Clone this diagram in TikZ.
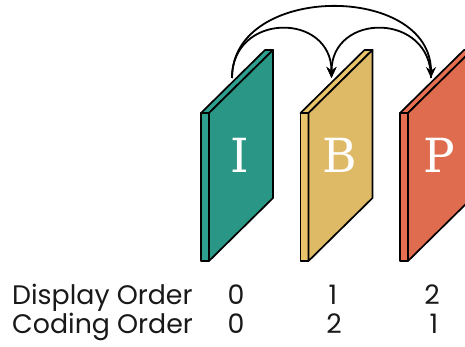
\documentclass[tikz,border=0pt]{standalone}
\usepackage{fontspec}
\setmainfont{Poppins}
\newfontfamily\letterfont{DejaVu Serif}
\usetikzlibrary{arrows.meta}
\definecolor{tealF}{HTML}{2A9686}
\definecolor{tealS}{HTML}{2DA08F}
\definecolor{yelF}{HTML}{DEBA67}
\definecolor{yelS}{HTML}{E9C46A}
\definecolor{redF}{HTML}{E06C4F}
\definecolor{redS}{HTML}{E76F51}
\tikzset{
  facedraw/.style={draw=black, line width=1.7pt, line join=round},
  framelabel/.style={text=white, font=\letterfont\fontsize{47}{47}\selectfont, inner sep=0pt},
  ordertext/.style={anchor=base west, inner sep=0pt, font=\fontsize{26.8}{26.8}\selectfont, text=black!90},
  ordernum/.style={anchor=base, inner sep=0pt, font=\fontsize{26.8}{26.8}\selectfont, text=black!90},
  deparrow/.style={draw=black, line width=1.8pt, -{Stealth[length=11pt,width=10pt]}},
}
\begin{document}
\begin{tikzpicture}[x=1pt,y=-1pt]
\useasboundingbox (0,0) rectangle (465,347);
\begin{scope}
\clip (0,0) rectangle (465,347);
\foreach \dx/\fc/\sc/\lab/\nm in {0/tealF/tealS/I/fi, 99.5/yelF/yelS/B/fb, 199/redF/redS/P/fp}{
  \begin{scope}[xshift=\dx pt]
    % side strip
    \filldraw[fill=\sc, facedraw] (201,113) -- (209,113) -- (209,261) -- (201,261) -- cycle;
    % top strip
    \filldraw[fill=\sc, facedraw] (201,113) -- (209,113) -- (273,50) -- (265,50) -- cycle;
    % front face
    \filldraw[fill=\fc, facedraw] (209,113) -- (273,50) -- (273,198) -- (209,261) -- cycle;
    \node[framelabel] (\nm) at (240,155) {\lab};
    \coordinate (\nm top) at (232,78);
  \end{scope}
}
\end{scope}
\draw[deparrow] (fitop) to[out=90,in=90,distance=66pt] (fbtop);
\draw[deparrow] (fitop) to[out=90,in=90,distance=95pt] (fptop);
\draw[deparrow] (fptop) to[out=90,in=90,distance=66pt] (fbtop);
\node[ordertext] (disp) at (12,304) {Display Order};
\node[ordertext] (cod) at (12,333.5) {Coding Order};
\node[ordernum] (d0) at (236,304) {0};
\node[ordernum] (d1) at (333,304) {1};
\node[ordernum] (d2) at (432,304) {2};
\node[ordernum] (c0) at (236,333.5) {0};
\node[ordernum] (c2) at (334,333.5) {2};
\node[ordernum] (c1) at (434,333.5) {1};
\end{tikzpicture}
\end{document}
